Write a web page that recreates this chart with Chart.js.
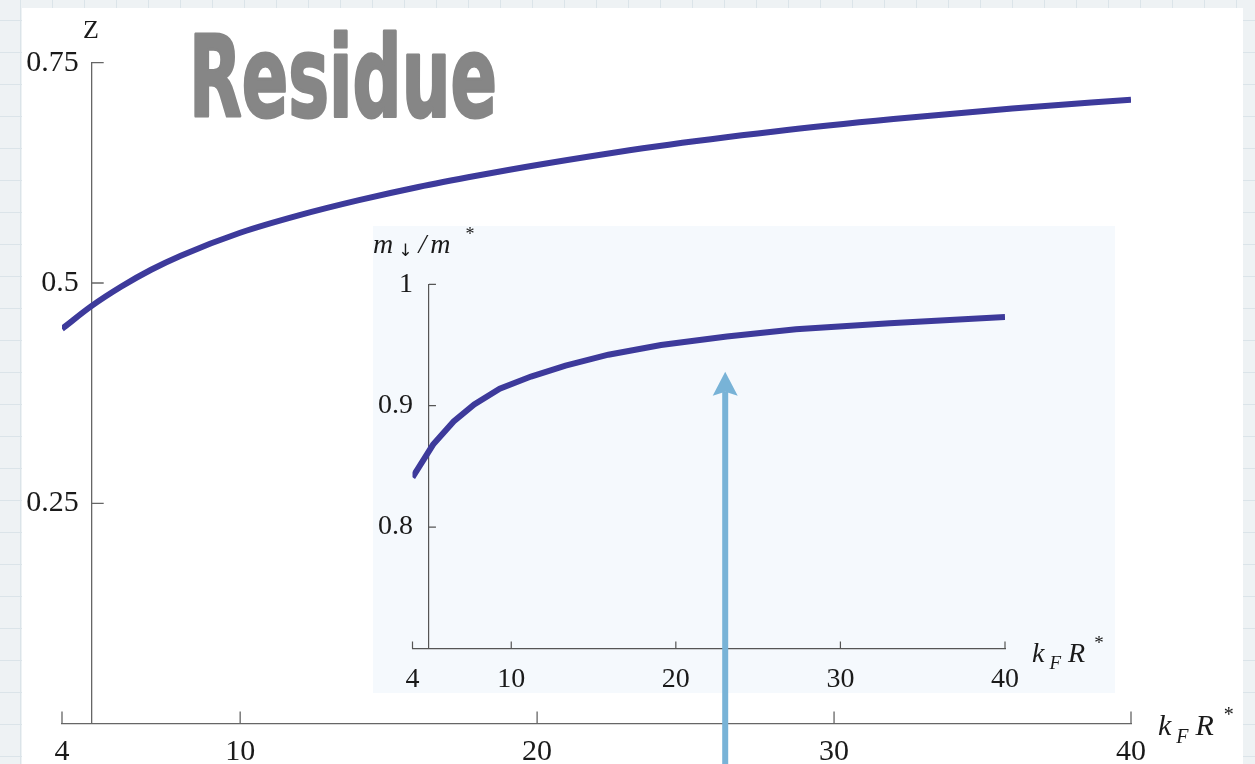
<!DOCTYPE html>
<html>
<head>
<meta charset="utf-8">
<title>Residue</title>
<script src="https://cdn.jsdelivr.net/npm/chart.js@4.4.1/dist/chart.umd.min.js"></script>
<style>
  html, body { margin: 0; padding: 0; }
  body {
    width: 1255px; height: 764px; overflow: hidden; position: relative;
    background-color: #eef2f4;
    background-image:
      linear-gradient(to right, #dbe4e9 1px, transparent 1px),
      linear-gradient(to bottom, #dbe4e9 1px, transparent 1px);
    background-size: 32px 32px;
    background-position: 20px 20px;
  }
  #paper { position: absolute; left: 22px; top: 8px; width: 1221px; height: 756px; background: #fff; }
  #mainChart { position: absolute; left: 0; top: 0; }
  #insetChart { position: absolute; left: 373px; top: 226px; }
</style>
</head>
<body>
<div id="paper"></div>
<canvas id="mainChart" width="1255" height="764"></canvas>
<canvas id="insetChart" width="742" height="538"></canvas>

<script>
// residue Z against k_F R*
const zKfR = [4, 5, 6, 7, 8, 10, 12, 14, 16, 18, 20, 24, 28, 32, 36, 40];
const zValues = [0.448, 0.474, 0.496, 0.515, 0.531, 0.557, 0.577, 0.594, 0.609, 0.622, 0.634, 0.655, 0.672, 0.686, 0.698, 0.708];
const zTicksX = [4, 10, 20, 30, 40];
const zTicksY = [0.25, 0.5, 0.75];

// inset: mass ratio m↓/m*
const massKfR = [4, 5.25, 6.5, 7.75, 9.3, 11.2, 13.3, 15.9, 19.1, 23.1, 27.3, 33, 40];
const massValues = [0.841, 0.868, 0.887, 0.901, 0.914, 0.924, 0.933, 0.942, 0.950, 0.957, 0.963, 0.968, 0.973];
const massTicksX = [4, 10, 20, 30, 40];
const massTicksY = [0.8, 0.9, 1];

// pointer arrow, in inset coordinates
const arrowAt = { x: 23, y: 0.928 };

const curveColor = '#3d3a9b';
const axisGray = '#666666';
const textColor = '#1a1a1a';
const serif = '"Liberation Serif", "Times New Roman", serif';

Chart.defaults.font.family = serif;

function toPoints(xs, ys) {
    return xs.map((x, i) => ({ x: x, y: ys[i] }));
}

// text with sub/superscripts, drawn piece by piece
function drawRich(ctx, x, y, parts) {
    let cx = x;
    parts.forEach(p => {
        ctx.font = p.font;
        cx += p.dx || 0;
        ctx.fillText(p.text, cx, y + (p.dy || 0));
        cx += ctx.measureText(p.text).width;
    });
}

// inward tick marks plus the y labels next to an axis that sits at x = cfg.yAxisAt
function axisMarks(cfg) {
    return {
        id: 'axisMarks',
        afterDraw(chart) {
            const { ctx, chartArea, scales: { x, y } } = chart;
            const axisX = x.getPixelForValue(cfg.yAxisAt);
            ctx.save();
            ctx.strokeStyle = cfg.color;
            ctx.lineWidth = cfg.lineWidth;
            ctx.beginPath();
            x.ticks.forEach(t => {
                const px = x.getPixelForValue(t.value);
                ctx.moveTo(px, chartArea.bottom);
                ctx.lineTo(px, chartArea.bottom - cfg.tickLen);
            });
            y.ticks.forEach(t => {
                const py = y.getPixelForValue(t.value);
                ctx.moveTo(axisX, py);
                ctx.lineTo(axisX + cfg.tickLen, py);
            });
            ctx.stroke();

            ctx.fillStyle = textColor;
            ctx.font = cfg.fontSize + 'px ' + serif;
            ctx.textAlign = 'right';
            ctx.textBaseline = 'middle';
            y.ticks.forEach(t => {
                ctx.fillText(String(t.value), axisX - cfg.labelGap, y.getPixelForValue(t.value));
            });
            ctx.restore();
        }
    };
}

const mainLabels = {
    id: 'mainLabels',
    afterDraw(chart) {
        const ctx = chart.ctx;
        ctx.save();
        ctx.fillStyle = textColor;
        ctx.textBaseline = 'alphabetic';

        ctx.textAlign = 'center';
        ctx.font = '26px ' + serif;
        ctx.fillText('Z', 91, 38);

        ctx.textAlign = 'left';
        drawRich(ctx, 1158, 735, [
            { text: 'k', font: 'italic 30px ' + serif },
            { text: 'F', font: 'italic 20px ' + serif, dx: 5, dy: 8 },
            { text: 'R', font: 'italic 30px ' + serif, dx: 7 },
            { text: '*', font: '20px ' + serif, dx: 10, dy: -14 }
        ]);

        // big title
        ctx.fillStyle = '#868686';
        ctx.strokeStyle = '#868686';
        ctx.lineJoin = 'round';
        ctx.lineWidth = 3;
        ctx.font = 'bold 112px "DejaVu Sans", sans-serif';
        const w = ctx.measureText('Residue').width;
        ctx.translate(189, 116);
        ctx.scale(308 / w, 1);
        ctx.fillText('Residue', 0, 0);
        ctx.strokeText('Residue', 0, 0);
        ctx.restore();
    }
};

new Chart(document.getElementById('mainChart'), {
    type: 'line',
    data: {
        datasets: [{
            data: toPoints(zKfR, zValues),
            borderColor: curveColor,
            borderWidth: 6,
            pointRadius: 0,
            cubicInterpolationMode: 'monotone',
            fill: false
        }]
    },
    options: {
        responsive: false,
        animation: false,
        events: [],
        layout: { padding: { left: 62, right: 124, top: 62.7, bottom: 0 } },
        plugins: { legend: { display: false }, tooltip: { enabled: false } },
        scales: {
            x: {
                type: 'linear', position: 'bottom', min: 4, max: 40,
                afterBuildTicks: s => { s.ticks = zTicksX.map(v => ({ value: v })); },
                afterFit: s => { s.height = 40.4; },
                grid: { display: false, drawTicks: false },
                border: { display: true, color: axisGray, width: 1.3 },
                ticks: { padding: 11, color: textColor, font: { size: 30 }, maxRotation: 0, autoSkip: false, callback: v => String(v) }
            },
            y: {
                type: 'linear', position: { x: 5 }, min: 0, max: 0.75,
                afterBuildTicks: s => { s.ticks = zTicksY.map(v => ({ value: v })); },
                grid: { display: false, drawTicks: false },
                border: { display: true, color: axisGray, width: 1.3 },
                ticks: { display: false }
            }
        }
    },
    plugins: [axisMarks({ yAxisAt: 5, tickLen: 12, labelGap: 13, fontSize: 30, color: axisGray, lineWidth: 1.3 }), mainLabels]
});

const insetBackground = {
    id: 'insetBackground',
    beforeDraw(chart) {
        const ctx = chart.ctx;
        ctx.save();
        ctx.fillStyle = '#f5f9fd';
        ctx.fillRect(0, 0, 742, 467);
        ctx.restore();
    }
};

const insetLabels = {
    id: 'insetLabels',
    afterDraw(chart) {
        const { ctx, scales: { x, y } } = chart;
        ctx.save();
        ctx.fillStyle = textColor;
        ctx.textAlign = 'left';
        ctx.textBaseline = 'alphabetic';
        drawRich(ctx, 0, 27, [
            { text: 'm', font: 'italic 28px ' + serif },
            { text: '↓', font: '17px "DejaVu Sans", sans-serif', dx: 5, dy: 3 },
            { text: '/', font: 'italic 28px ' + serif, dx: 6 },
            { text: 'm', font: 'italic 28px ' + serif, dx: 4 },
            { text: '*', font: '18px ' + serif, dx: 15, dy: -13 }
        ]);
        drawRich(ctx, 659, 436, [
            { text: 'k', font: 'italic 28px ' + serif },
            { text: 'F', font: 'italic 19px ' + serif, dx: 5, dy: 7 },
            { text: 'R', font: 'italic 28px ' + serif, dx: 7 },
            { text: '*', font: '19px ' + serif, dx: 9, dy: -13 }
        ]);

        // arrow pointing at the curve
        const ax = x.getPixelForValue(arrowAt.x);
        const tip = y.getPixelForValue(arrowAt.y);
        ctx.fillStyle = '#78b3d7';
        ctx.fillRect(ax - 3, tip + 20, 6, chart.height - tip - 20);
        ctx.beginPath();
        ctx.moveTo(ax, tip);
        ctx.lineTo(ax + 12.5, tip + 24);
        ctx.lineTo(ax, tip + 20);
        ctx.lineTo(ax - 12.5, tip + 24);
        ctx.closePath();
        ctx.fill();
        ctx.restore();
    }
};

new Chart(document.getElementById('insetChart'), {
    type: 'line',
    data: {
        datasets: [{
            data: toPoints(massKfR, massValues),
            borderColor: curveColor,
            borderWidth: 6,
            pointRadius: 0,
            tension: 0,
            fill: false
        }]
    },
    options: {
        responsive: false,
        animation: false,
        events: [],
        layout: { padding: { left: 39.5, right: 110, top: 58.3, bottom: 0 } },
        plugins: { legend: { display: false }, tooltip: { enabled: false } },
        scales: {
            x: {
                type: 'linear', position: 'bottom', min: 4, max: 40,
                afterBuildTicks: s => { s.ticks = massTicksX.map(v => ({ value: v })); },
                afterFit: s => { s.height = 115.5; },
                grid: { display: false, drawTicks: false },
                border: { display: true, color: '#555555', width: 1.2 },
                ticks: { padding: 14, color: textColor, font: { size: 28 }, maxRotation: 0, autoSkip: false, callback: v => String(v) }
            },
            y: {
                type: 'linear', position: { x: 5 }, min: 0.7, max: 1,
                afterBuildTicks: s => { s.ticks = massTicksY.map(v => ({ value: v })); },
                grid: { display: false, drawTicks: false },
                border: { display: true, color: '#555555', width: 1.2 },
                ticks: { display: false }
            }
        }
    },
    plugins: [insetBackground, axisMarks({ yAxisAt: 5, tickLen: 7, labelGap: 16, fontSize: 28, color: '#555555', lineWidth: 1.2 }), insetLabels]
});
</script>
</body>
</html>
